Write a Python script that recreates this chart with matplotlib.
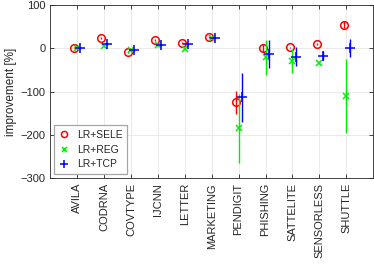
import numpy as np
import matplotlib
matplotlib.use('Agg')
import matplotlib.pyplot as plt

plt.rcParams['font.family'] = ['Liberation Sans', 'DejaVu Sans']
plt.rcParams['text.color'] = '#262626'
plt.rcParams['axes.labelcolor'] = '#262626'
plt.rcParams['xtick.labelcolor'] = '#262626'
plt.rcParams['ytick.labelcolor'] = '#262626'

datasets = ['AVILA', 'CODRNA', 'COVTYPE', 'IJCNN', 'LETTER', 'MARKETING',
            'PENDIGIT', 'PHISHING', 'SATTELITE', 'SENSORLESS', 'SHUTTLE']

sele = [1, 24, -8, 19, 13, 27, -125, 0, 2, 10, 55]
sele_err = [1, 2, 2, 2, 2, 2, 27, 9, 2, 2, 8]
reg = [0, 5, -5, 7, -2, 25, -185, -21, -29, -33, -110]
reg_err = [1, 2, 2, 2, 3, 2, 79, 40, 27, 3, 86]
tcp = [0, 10, -4, 8, 9, 25, -113, -13, -19, -17, 0]
tcp_err = [1, 2, 2, 2, 2, 2, 57, 33, 21, 11, 21]

x = np.arange(1, len(datasets) + 1)

fig = plt.figure(figsize=(3.74, 2.67), dpi=100)
ax = fig.add_axes([0.134, 0.333, 0.864, 0.648])

series = [
    (x - 0.1, sele, sele_err, 'o', 'red', 5.5, 'LR+SELE'),
    (x, reg, reg_err, 'x', '#00ee00', 4.5, 'LR+REG'),
    (x + 0.12, tcp, tcp_err, '+', 'blue', 7, 'LR+TCP'),
]
for xs, ys, es, m, c, ms, lab in series:
    ax.errorbar(xs, ys, yerr=es, fmt='none', ecolor=c, elinewidth=1.0,
                capsize=0)
    ax.plot(xs, ys, m, color=c, mfc='none', ms=ms, mew=1.1, label=lab)

ax.set_xlim(0, 12)
ax.set_ylim(-300, 100)
ax.set_xticks(x)
ax.set_xticklabels(datasets, rotation=90, fontsize=8)
ax.set_yticks([-300, -200, -100, 0, 100])
ax.tick_params(axis='y', labelsize=8)
ax.tick_params(direction='in', length=3, width=0.6, color='#262626',
               top=True, right=True)
ax.set_ylabel('improvement [%]', fontsize=8.5, labelpad=2)
ax.grid(True, color='#e6e6e6', linewidth=0.6)
ax.set_axisbelow(True)
for s in ax.spines.values():
    s.set_color('#262626')
    s.set_linewidth(0.6)

leg = ax.legend(loc='lower left', fontsize=7.5, numpoints=1, handlelength=1.0,
                handletextpad=0.7, borderpad=0.45, labelspacing=0.45,
                fancybox=False, framealpha=1, edgecolor='#a6a6a6',
                borderaxespad=0.4, markerscale=0.8)
leg.get_frame().set_linewidth(0.9)

fig.savefig('out.png', dpi=100)
